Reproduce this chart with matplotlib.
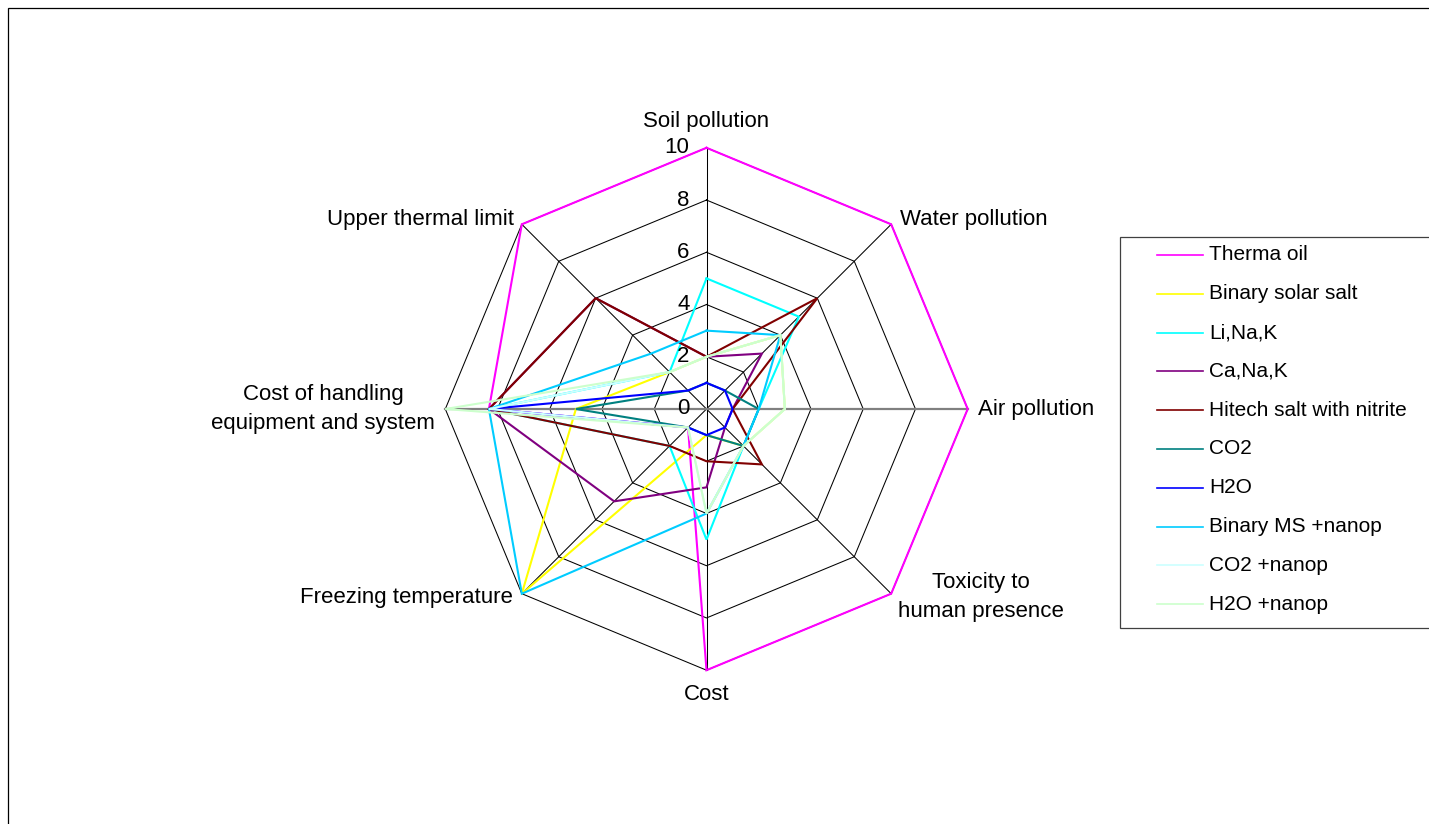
import numpy as np
import matplotlib
matplotlib.use("Agg")
import matplotlib.pyplot as plt
from matplotlib.lines import Line2D
from matplotlib.patches import Rectangle

plt.rcParams['font.family'] = ['Liberation Sans', 'DejaVu Sans']

# ---- data -------------------------------------------------------------
categories = ["Soil pollution", "Water pollution", "Air pollution",
              "Toxicity to\nhuman presence", "Cost", "Freezing temperature",
              "Cost of handling\nequipment and system", "Upper thermal limit"]

series_names = ["Therma oil", "Binary solar salt", "Li,Na,K", "Ca,Na,K",
                "Hitech salt with nitrite", "CO2", "H2O", "Binary MS +nanop",
                "CO2 +nanop", "H2O +nanop"]

therma_oil        = [10, 10, 10, 10, 10, 1, 8.33, 10]
binary_solar_salt = [2, 4, 3, 2, 1, 10, 5, 2]
li_na_k           = [5, 5, 2, 2, 5, 2, 8.33, 2]
ca_na_k           = [2, 3, 1, 1, 3, 5, 8.33, 6]
hitech_salt       = [2, 6, 1, 3, 2, 2, 8.33, 6]
co2               = [1, 1, 2, 2, 1, 1, 5, 1]
h2o               = [1, 1, 1, 1, 1, 1, 8.33, 1]
binary_ms_nanop   = [3, 4, 2, 2, 4, 10, 8.33, 3]
co2_nanop         = [2, 4, 3, 2, 4, 1, 8.33, 2]
h2o_nanop         = [2, 4, 3, 2, 4, 1, 10, 2]

value_ticks = [0, 2, 4, 6, 8, 10]

series_values = [therma_oil, binary_solar_salt, li_na_k, ca_na_k, hitech_salt,
                 co2, h2o, binary_ms_nanop, co2_nanop, h2o_nanop]
series_colors = ["#FF00FF", "#FFFF00", "#00FFFF", "#800080", "#800000",
                 "#008080", "#0000FF", "#00CCFF", "#CCFFFF", "#CCFFCC"]

# ---- figure / axes geometry -------------------------------------------
W, H, DPI = 1429, 824, 100
fig = plt.figure(figsize=(W / DPI, H / DPI), dpi=DPI)

cx, cy = 706.5, 409.0        # centre of the radar, pixels from top-left
unit = 26.12                 # pixels per value unit
half = 330.0                 # half size of the axes box in pixels
ax = fig.add_axes([(cx - half) / W, (H - cy - half) / H, 2 * half / W, 2 * half / H])
lim = half / unit
ax.set_xlim(-lim, lim)
ax.set_ylim(-lim, lim)
ax.set_axis_off()

n = len(categories)
theta = np.arange(n) * 2 * np.pi / n   # clockwise from north


def to_xy(vals):
    r = np.asarray(vals, dtype=float)
    x = r * np.sin(theta)
    y = r * np.cos(theta)
    return np.append(x, x[0]), np.append(y, y[0])


# octagonal grid rings
for r in value_ticks[1:]:
    gx, gy = to_xy([r] * n)
    ax.plot(gx, gy, color="black", lw=0.75, zorder=1)

# spokes; the horizontal pair is drawn as one grey line
rmax = value_ticks[-1]
for i in range(n):
    if i in (2, 6):
        continue
    ax.plot([0, rmax * np.sin(theta[i])], [0, rmax * np.cos(theta[i])],
            color="black", lw=0.75, zorder=1)
ax.plot([rmax * np.sin(theta[6]), rmax * np.sin(theta[2])], [0, 0],
        color="#808080", lw=1.6, zorder=1)

# value labels along the vertical axis
for r in value_ticks:
    ax.text(-0.65, r, str(r), ha="right", va="center", fontsize=16, zorder=5)

# series
for k, (vals, col) in enumerate(zip(series_values, series_colors)):
    sx, sy = to_xy(vals)
    ax.plot(sx, sy, color=col, lw=1.5, zorder=2 + k * 0.1,
            solid_joinstyle="miter")

# category labels (offsets in value units)
lab_fs = 16
ax.text(0, 288 / unit, categories[0], ha="center", va="center", fontsize=lab_fs)
ax.text(193.5 / unit, 190 / unit, categories[1], ha="left", va="center", fontsize=lab_fs)
ax.text(271.5 / unit, 0, categories[2], ha="left", va="center", fontsize=lab_fs)
ax.text(274.5 / unit, -188 / unit, categories[3], ha="center", va="center",
        fontsize=lab_fs, multialignment="center", linespacing=1.47)
ax.text(0, -286 / unit, categories[4], ha="center", va="center", fontsize=lab_fs)
ax.text(-193.5 / unit, -189 / unit, categories[5], ha="right", va="center", fontsize=lab_fs)
ax.text(-383.5 / unit, 0, categories[6], ha="center", va="center",
        fontsize=lab_fs, multialignment="center", linespacing=1.47)
ax.text(-192.5 / unit, 190 / unit, categories[7], ha="right", va="center", fontsize=lab_fs)

# legend box
def fx(px):
    return px / W


def fy(py):
    return (H - py) / H


fig.add_artist(Rectangle((fx(1120), fy(628)), fx(1445) - fx(1120), fy(237) - fy(628),
                         transform=fig.transFigure, facecolor="white",
                         edgecolor="#404040", lw=0.9, zorder=3))
for i, (name, col) in enumerate(zip(series_names, series_colors)):
    yy = 255 + i * 38.8
    fig.add_artist(Line2D([fx(1157), fx(1203)], [fy(yy), fy(yy)], color=col, lw=1.2,
                          transform=fig.transFigure, zorder=4))
    fig.text(fx(1209), fy(yy), name, ha="left", va="center", fontsize=15, zorder=4)

# chart area border
fig.add_artist(Rectangle((fx(8), fy(840)), fx(1445) - fx(8), fy(8) - fy(840),
                         transform=fig.transFigure, facecolor="none",
                         edgecolor="black", lw=0.9, zorder=0))

fig.savefig("out.png", dpi=DPI)
